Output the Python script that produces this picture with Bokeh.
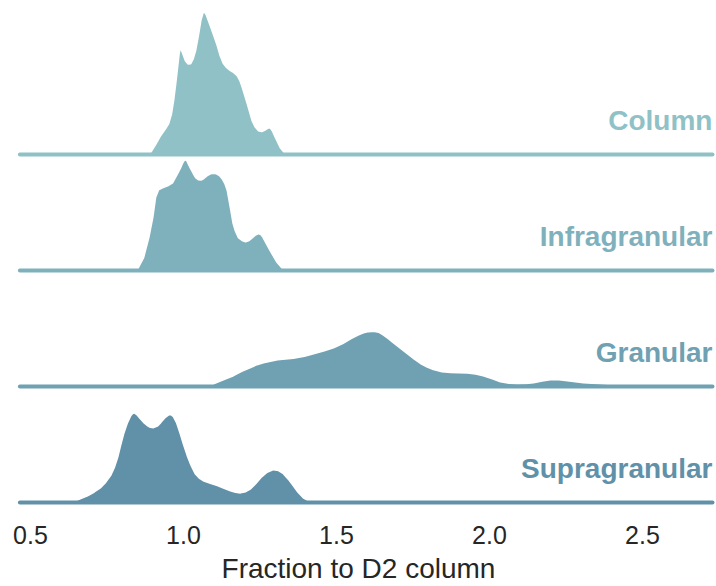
from bokeh.plotting import figure
from bokeh.models import Range1d, FixedTicker, ColumnDataSource
from bokeh.core.properties import value
from bokeh.embed import file_html
from bokeh.resources import INLINE

# ---- data ----
layers = ["Column", "Infragranular", "Granular", "Supragranular"]
colors = ["#8FC1C6", "#7FB1BD", "#6FA1B3", "#6091A8"]

column_x = [0.880, 0.892, 0.910, 0.925, 0.940, 0.951, 0.960, 0.967, 0.974, 0.980, 0.985, 0.990,
            0.997, 1.007, 1.015, 1.023, 1.031, 1.039, 1.048, 1.056, 1.063, 1.069, 1.075,
            1.088, 1.100, 1.111, 1.121, 1.131, 1.142, 1.154, 1.165, 1.176, 1.185, 1.193,
            1.209, 1.225, 1.235, 1.245, 1.256, 1.268, 1.276, 1.284, 1.292, 1.301, 1.317,
            1.330, 1.340]
column_d = [0.00, 0.07, 0.38, 0.66, 0.88, 1.07, 1.40, 1.86, 2.45, 3.00, 3.48, 3.72,
            3.52, 3.24, 3.13, 3.14, 3.30, 3.59, 4.10, 4.62, 4.88, 4.93, 4.82,
            4.45, 4.10, 3.76, 3.40, 3.14, 3.00, 2.90, 2.83, 2.72, 2.55, 2.31,
            1.76, 1.17, 0.95, 0.83, 0.80, 0.86, 0.92, 0.93, 0.80, 0.59, 0.24,
            0.07, 0.00]

infra_x = [0.840, 0.850, 0.869, 0.886, 0.899, 0.908, 0.918, 0.931, 0.948, 0.964, 0.980, 0.990,
           0.997, 1.002, 1.007, 1.012, 1.016, 1.025, 1.033, 1.041, 1.049, 1.057, 1.065,
           1.076, 1.088, 1.098, 1.108, 1.118, 1.127, 1.136, 1.144, 1.154, 1.163, 1.171,
           1.180, 1.192, 1.203, 1.214, 1.225, 1.235, 1.245, 1.253, 1.261, 1.272, 1.284,
           1.296, 1.307, 1.324, 1.334]
infra_d = [0.00, 0.07, 0.45, 1.14, 1.83, 2.52, 2.79, 2.86, 2.93, 3.03, 3.34, 3.55,
           3.72, 3.80, 3.83, 3.78, 3.69, 3.50, 3.34, 3.20, 3.14, 3.13, 3.17,
           3.27, 3.34, 3.36, 3.34, 3.28, 3.17, 3.00, 2.76, 2.17, 1.62, 1.35,
           1.14, 1.04, 1.00, 1.04, 1.14, 1.23, 1.28, 1.25, 1.14, 0.92, 0.69,
           0.47, 0.28, 0.07, 0.00]

gran_x = [1.090, 1.098, 1.130, 1.163, 1.190, 1.219, 1.240, 1.261, 1.307, 1.359, 1.395, 1.425,
          1.460, 1.490, 1.520, 1.546, 1.570, 1.588, 1.605, 1.621, 1.638, 1.654, 1.670,
          1.686, 1.710, 1.732, 1.755, 1.775, 1.797, 1.817, 1.845, 1.873, 1.900, 1.928,
          1.955, 1.980, 2.010, 2.036, 2.064, 2.092, 2.120, 2.144, 2.172, 2.199, 2.227,
          2.255, 2.281, 2.307, 2.335, 2.363, 2.400, 2.438, 2.471, 2.500]
gran_d = [0.00, 0.10, 0.24, 0.38, 0.53, 0.66, 0.76, 0.83, 0.93, 0.98, 1.05, 1.14,
          1.24, 1.34, 1.49, 1.65, 1.78, 1.86, 1.90, 1.91, 1.88, 1.78, 1.66,
          1.52, 1.32, 1.14, 0.95, 0.80, 0.68, 0.59, 0.52, 0.49, 0.48, 0.47,
          0.44, 0.38, 0.27, 0.17, 0.12, 0.10, 0.11, 0.14, 0.20, 0.24, 0.24,
          0.21, 0.17, 0.14, 0.12, 0.10, 0.08, 0.07, 0.03, 0.00]

supra_x = [0.637, 0.647, 0.666, 0.686, 0.708, 0.729, 0.745, 0.761, 0.773, 0.784, 0.794, 0.804,
           0.816, 0.827, 0.834, 0.840, 0.848, 0.859, 0.870, 0.882, 0.892, 0.902, 0.914,
           0.925, 0.938, 0.951, 0.959, 0.967, 0.978, 0.990, 1.001, 1.013, 1.026, 1.039,
           1.052, 1.065, 1.088, 1.111, 1.133, 1.154, 1.170, 1.186, 1.203, 1.219, 1.236,
           1.252, 1.273, 1.294, 1.311, 1.327, 1.343, 1.359, 1.375, 1.392, 1.408, 1.418]
supra_d = [0.00, 0.07, 0.15, 0.24, 0.37, 0.52, 0.70, 0.93, 1.20, 1.55, 1.98, 2.38,
           2.75, 3.00, 3.08, 3.10, 3.04, 2.90, 2.77, 2.66, 2.60, 2.59, 2.64,
           2.76, 2.92, 3.03, 3.04, 2.98, 2.76, 2.38, 2.00, 1.62, 1.27, 1.00,
           0.85, 0.76, 0.67, 0.59, 0.50, 0.41, 0.36, 0.34, 0.38, 0.48, 0.66,
           0.86, 1.05, 1.14, 1.11, 1.00, 0.81, 0.59, 0.36, 0.17, 0.07, 0.00]

tick_values = [0.5, 1.0, 1.5, 2.0, 2.5]
tick_labels = ["0.5", "1.0", "1.5", "2.0", "2.5"]
x_label = "Fraction to D2 column"

series_x = [column_x, infra_x, gran_x, supra_x]
series_d = [column_d, infra_d, gran_d, supra_d]

# ---- layout ----
FW, FH = 716, 506
spacing = 4.0          # vertical offset between ridges (density units)
x_lo, x_hi = 0.402, 2.742
line_lo, line_hi = 0.4654, 2.7288
label_lift = 1.17

p = figure(frame_width=FW, frame_height=FH, output_backend="svg", toolbar_location=None,
           x_range=Range1d(x_lo, x_hi), y_range=Range1d(-0.138, 17.31),
           y_axis_location=None, min_border_left=0, min_border_right=0,
           min_border_top=0, min_border_bottom=0)
p.outline_line_color = None
p.xgrid.visible = False
p.ygrid.visible = False
p.background_fill_color = "white"
p.border_fill_color = "white"

n = len(layers)
for i, (name, col, xs, ds) in enumerate(zip(layers, colors, series_x, series_d)):
    base = (n - 1 - i) * spacing
    top = [base + d for d in ds]
    src = ColumnDataSource(dict(x=xs, y1=[base] * len(xs), y2=top))
    p.varea(x="x", y1="y1", y2="y2", source=src, fill_color=col, fill_alpha=1.0)
    p.line(x="x", y="y2", source=src, line_color="white", line_width=2,
           line_join="round")
    p.line(x=[line_lo, line_hi], y=[base, base], line_color=col, line_width=4,
           line_cap="round")
    p.text(x=[line_hi], y=[base + label_lift], text=[name], text_align="right",
           text_baseline="alphabetic", text_color=col,
           text_font=value("Liberation Sans"), text_font_style="bold",
           text_font_size="28px")

ax = p.xaxis[0]
ax.ticker = FixedTicker(ticks=tick_values)
ax.major_label_overrides = {v: l for v, l in zip(tick_values, tick_labels)}
ax.axis_line_color = None
ax.major_tick_line_color = None
ax.minor_tick_line_color = None
ax.major_tick_out = 0
ax.major_tick_in = 0
ax.major_label_standoff = 19
ax.major_label_text_font = "Liberation Sans"
ax.major_label_text_font_size = "25px"
ax.major_label_text_color = "#262626"
ax.axis_label = x_label
ax.axis_label_text_font = "Liberation Sans"
ax.axis_label_text_font_style = "normal"
ax.axis_label_text_font_size = "28px"
ax.axis_label_text_color = "#262626"
ax.axis_label_standoff = 6

open("out.html", "w").write(file_html(p, INLINE))
